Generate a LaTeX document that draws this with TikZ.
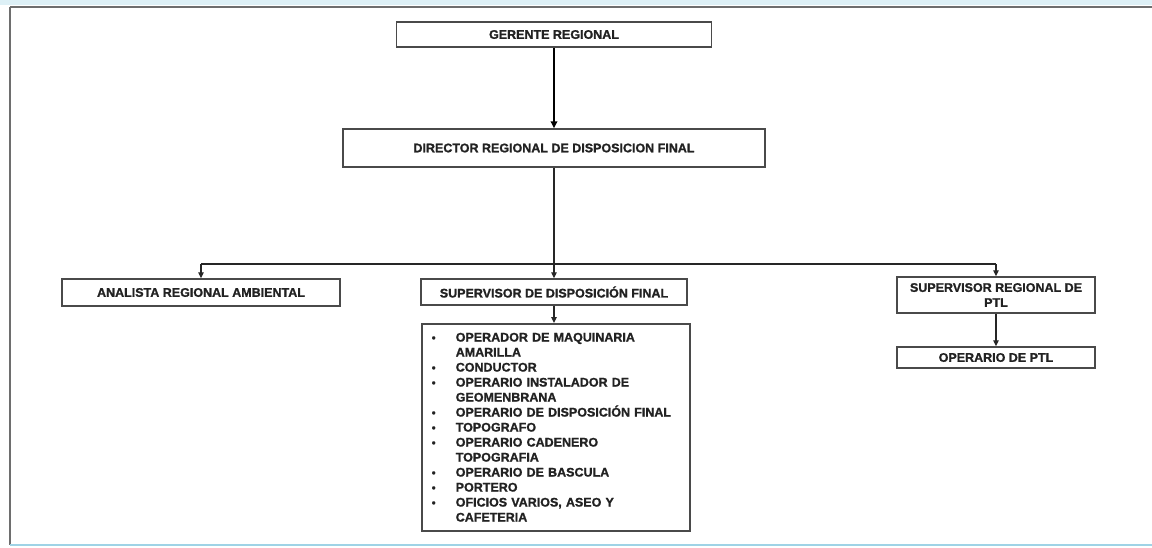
\documentclass[tikz,border=0pt]{standalone}
\usepackage{fontspec}
\setmainfont[BoldFeatures={FakeBold=1.2}]{Liberation Sans}
\usetikzlibrary{arrows.meta}
\definecolor{boxline}{HTML}{4A4A4A}
\definecolor{txt}{HTML}{222222}
\definecolor{framecol}{HTML}{6E6E6E}
\definecolor{scan}{HTML}{9FD3E6}
\newcommand\orgbul{\makebox[25pt][l]{\hspace{1pt}{\fontsize{11}{11}\selectfont\textbullet}}}
\newcommand\orgind{\hspace*{25pt}}
\begin{document}
\begin{tikzpicture}[x=1pt,y=-1pt,
  box/.style={draw=boxline, line width=1.5pt, fill=white,
    font=\fontsize{12.5}{15}\selectfont\bfseries, text=txt, inner sep=0pt, align=center},
  conn/.style={draw=black!85, line width=1.2pt},
  arr/.style={conn, -{Triangle[length=6pt,width=5.5pt]}},
  mainarr/.style={draw=black, line width=2.4pt, -{Triangle[length=7pt,width=6.5pt]}},
]
\useasboundingbox (0,0) rectangle (1152,547);
\fill[white] (0,0) rectangle (1152,547);
\fill[scan!35] (0,0) rectangle (1152,5);
\draw[framecol, line width=2pt] (10,7) -- (1152,7);
\draw[framecol, line width=2pt] (10,7) -- (10,545);
\draw[scan, line width=2pt] (10,545) -- (1152,545);

\node[box, minimum width=315pt, minimum height=25pt] (ger) at (554,34.5) {GERENTE REGIONAL};
\node[box, minimum width=422pt, minimum height=38pt] (dir) at (554,148) {DIRECTOR REGIONAL DE DISPOSICION FINAL};
\node[box, minimum width=278pt, minimum height=27pt] (ana) at (201,292.5) {ANALISTA REGIONAL AMBIENTAL};
\node[box, minimum width=266pt, minimum height=26pt] (sup) at (554,292) {SUPERVISOR DE DISPOSICIÓN FINAL};
\node[box, minimum width=198pt, minimum height=36pt] (ptl) at (996,295) {SUPERVISOR REGIONAL DE\\PTL};
\node[box, minimum width=198pt, minimum height=21pt] (opt) at (996,357.5) {OPERARIO DE PTL};
\node[box, align=left, anchor=north west, text width=250pt, inner xsep=9pt, inner ysep=7pt,
      minimum height=207pt] (list) at (421,323) {%
\orgbul OPERADOR DE MAQUINARIA\\
\orgind AMARILLA\\
\orgbul CONDUCTOR\\
\orgbul OPERARIO INSTALADOR DE\\
\orgind GEOMENBRANA\\
\orgbul OPERARIO DE DISPOSICIÓN FINAL\\
\orgbul TOPOGRAFO\\
\orgbul OPERARIO CADENERO\\
\orgind TOPOGRAFIA\\
\orgbul OPERARIO DE BASCULA\\
\orgbul PORTERO\\
\orgbul OFICIOS VARIOS, ASEO Y\\
\orgind CAFETERIA};

\coordinate (j) at (554,264);
\coordinate (jl) at (ana.north |- j);
\coordinate (jr) at (ptl.north |- j);

\draw[mainarr] (ger.south) -- (dir.north);
\draw[conn] (dir.south) -- (j);
\draw[conn] (jl) -- (jr);
\draw[arr] (jl) -- (ana.north);
\draw[arr] (j) -- (sup.north);
\draw[arr] (jr) -- (ptl.north);
\draw[arr] (sup.south) -- (sup.south |- list.north);
\draw[arr] (ptl.south) -- (opt.north);
\end{tikzpicture}
\end{document}
